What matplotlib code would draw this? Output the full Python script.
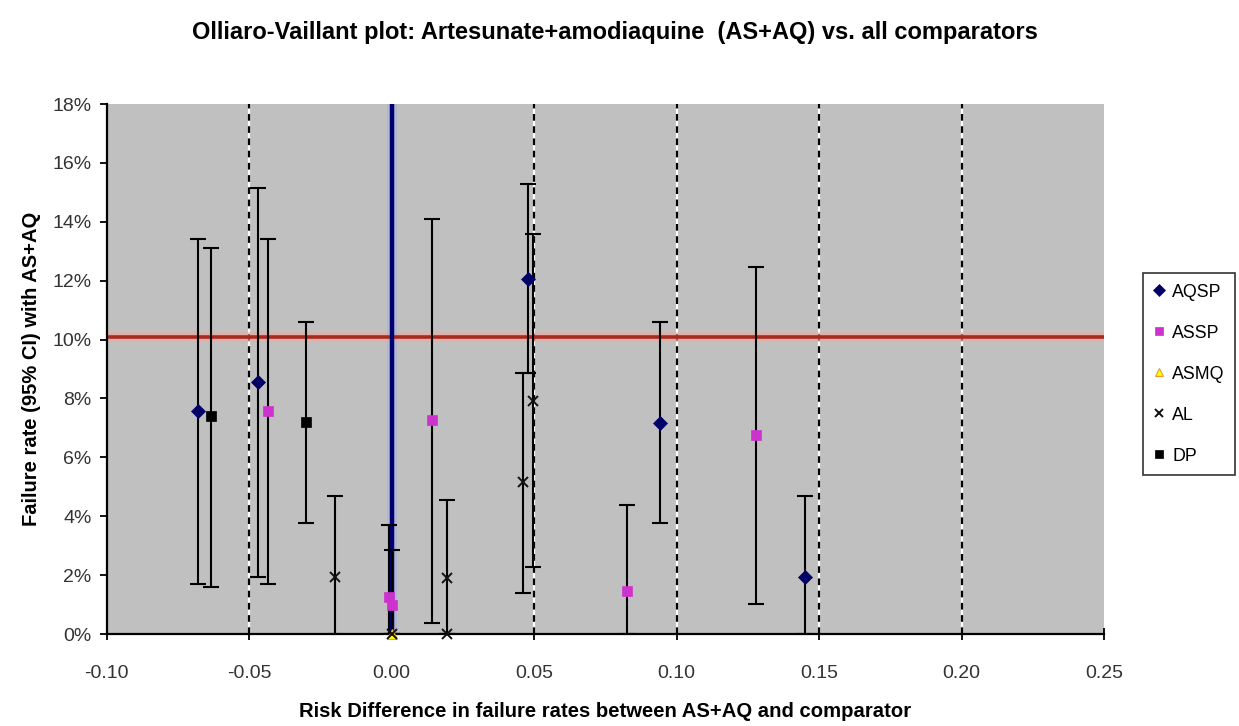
import matplotlib
matplotlib.use("Agg")
import matplotlib.pyplot as plt
from matplotlib.ticker import FuncFormatter

# Risk difference (x), failure rate % (y) and 95% CI bounds (%) per comparator
aqsp_x = [-0.068, -0.047, 0.048, 0.094, 0.145]
aqsp_y = [7.56, 8.55, 12.07, 7.17, 1.93]
aqsp_lo = [1.69, 1.95, 8.87, 3.76, 0.0]
aqsp_hi = [13.4, 15.14, 15.27, 10.59, 4.69]

assp_x = [-0.0435, -0.001, 0.0, 0.0143, 0.0825, 0.128]
assp_y = [7.58, 1.25, 1.0, 7.28, 1.47, 6.77]
assp_lo = [1.69, 0.0, 0.0, 0.39, 0.0, 1.01]
assp_hi = [13.4, 3.7, 2.86, 14.1, 4.38, 12.47]

asmq_x = [0.0]
asmq_y = [0.0]

al_x = [-0.020, 0.0195, 0.0195, 0.046, 0.0495, 0.0]
al_y = [1.93, 1.89, 0.0, 5.15, 7.93, 0.0]
al_lo = [0.0, 0.0, 0.0, 1.38, 2.26, 0.0]
al_hi = [4.69, 4.56, 0.0, 8.87, 13.6, 0.0]

dp_x = [-0.0634, -0.030]
dp_y = [7.39, 7.2]
dp_lo = [1.61, 3.76]
dp_hi = [13.1, 10.59]

threshold = 10.08
x_ticks = [-0.10, -0.05, 0.00, 0.05, 0.10, 0.15, 0.20, 0.25]
y_ticks = [0, 2, 4, 6, 8, 10, 12, 14, 16, 18]
grid_x = [-0.05, 0.05, 0.10, 0.15, 0.20]

plt.rcParams['font.family'] = ['Liberation Sans', 'DejaVu Sans']

fig = plt.figure(figsize=(12.39, 7.26), dpi=100)
ax = fig.add_axes([0.0861, 0.1267, 0.805, 0.73])
ax.set_facecolor('#c0c0c0')
ax.set_xlim(-0.10, 0.25)
ax.set_ylim(0, 18)

# dashed vertical guides (black dashes over white)
for gx in grid_x:
    ax.axvline(gx, color='white', lw=1.6, zorder=1)
    ax.axvline(gx, color='black', lw=1.6, dashes=(3, 2.5), zorder=1.1)

# reference lines
ax.axhline(threshold, color='#f0a8a0', lw=7, alpha=0.6, zorder=2)
ax.axhline(threshold, color='#a82a1e', lw=2.6, zorder=2.1)
ax.axvline(0.0, color='#a8b0e0', lw=7, alpha=0.6, zorder=2)
ax.axvline(0.0, color='#000070', lw=3.2, zorder=2.1)


def series(xs, ys, lo, hi, marker, color, ms, label):
    yerr = [[y - l for y, l in zip(ys, lo)], [h - y for y, h in zip(ys, hi)]]
    ax.errorbar(xs, ys, yerr=yerr, fmt='none', ecolor='black', elinewidth=1.5,
                capsize=6, capthick=1.5, zorder=3)
    ax.plot(xs, ys, linestyle='none', marker=marker, color=color, ms=ms,
            mec=color, mew=1.4 if marker == 'x' else 0.5, label=label,
            zorder=4, clip_on=False)


series(aqsp_x, aqsp_y, aqsp_lo, aqsp_hi, 'D', '#000066', 7.5, 'AQSP')
series(assp_x, assp_y, assp_lo, assp_hi, 's', '#cc33cc', 7.5, 'ASSP')
ax.plot(asmq_x, asmq_y, linestyle='none', marker='^', color='#ffff00', ms=7,
        mec='#e8a030', mew=0.8, label='ASMQ', zorder=4, clip_on=False)
series(al_x, al_y, al_lo, al_hi, 'x', '#111111', 7, 'AL')
series(dp_x, dp_y, dp_lo, dp_hi, 's', '#000000', 7.5, 'DP')

for side in ('top', 'right'):
    ax.spines[side].set_visible(False)
for side in ('left', 'bottom'):
    ax.spines[side].set_linewidth(1.6)
    ax.spines[side].set_color('black')

ax.set_xticks(x_ticks)
ax.set_yticks(y_ticks)
ax.xaxis.set_major_formatter(FuncFormatter(lambda v, p: f"{v:.2f}"))
ax.yaxis.set_major_formatter(FuncFormatter(lambda v, p: f"{v:.0f}%"))
ax.tick_params(axis='x', direction='inout', length=9, width=1.3, labelsize=14,
               labelcolor='#333333', pad=18)
ax.tick_params(axis='y', direction='out', length=5, width=1.3, labelsize=14,
               labelcolor='#333333', pad=6)

ax.set_xlabel('Risk Difference in failure rates between AS+AQ and comparator',
              fontsize=14.6, fontweight='bold', labelpad=14)
ax.set_ylabel('Failure rate (95% CI) with AS+AQ', fontsize=14.5,
              fontweight='bold', labelpad=8)
fig.text(0.496, 0.955,
         'Olliaro-Vaillant plot: Artesunate+amodiaquine  (AS+AQ) vs. all comparators',
         ha='center', va='center', fontsize=17, fontweight='bold')

leg = fig.legend(loc='upper left', bbox_to_anchor=(0.9225, 0.624),
                 fontsize=12.8, frameon=True, fancybox=False, edgecolor='black',
                 handlelength=0.6, handletextpad=0.45, labelspacing=1.35,
                 borderpad=0.6, borderaxespad=0.0, markerscale=0.8)
leg.get_frame().set_linewidth(1.2)

fig.savefig('out.png', dpi=100)
